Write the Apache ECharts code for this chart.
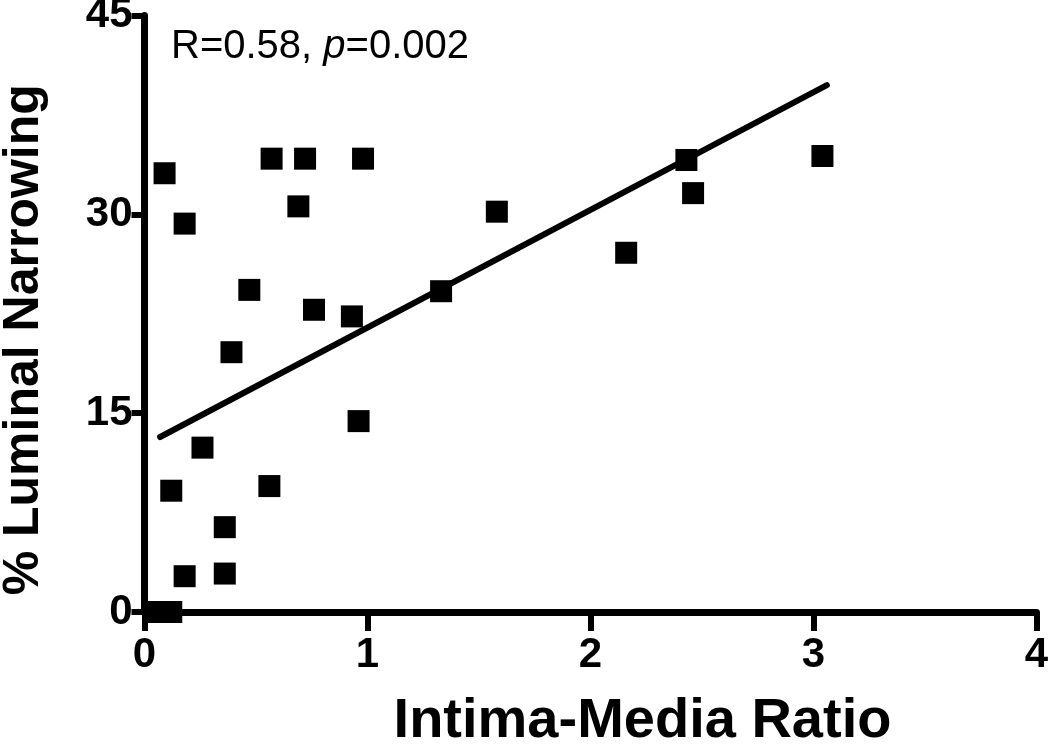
<!DOCTYPE html>
<html>
<head>
<meta charset="utf-8">
<script src="https://cdn.jsdelivr.net/npm/echarts@6/dist/echarts.min.js"></script>
<style>
html,body{margin:0;padding:0;background:#fff;}
#chart{width:1050px;height:746px;}
</style>
</head>
<body>
<div id="chart"></div>
<script>
// intima-media ratio (x) vs % luminal narrowing (y)
var imRatio = [0.09, 0.18, 0.57, 0.72, 0.69, 0.98, 0.47, 0.39, 0.76, 0.93, 0.96, 0.26, 0.12,
               0.56, 0.36, 0.18, 0.36, 0.06, 0.12, 1.33, 1.58, 2.16, 2.43, 2.46, 3.04];
var narrowing = [33.1, 29.3, 34.2, 34.2, 30.6, 34.2, 24.3, 19.6, 22.8, 22.3, 14.4, 12.4, 9.15,
                 9.5, 6.4, 2.7, 2.9, 0, 0, 24.2, 30.2, 27.1, 34.1, 31.6, 34.4];
// regression line end points
var fitX = [0.07, 3.06];
var fitY = [13.2, 39.75];

var points = imRatio.map(function (x, i) { return [x, narrowing[i]]; });
var fitLine = fitX.map(function (x, i) { return [x, fitY[i]]; });

var chart = echarts.init(document.getElementById('chart'));
var axisFont = 'Liberation Sans, Arial, sans-serif';
chart.setOption({
    backgroundColor: '#fff',
    animation: false,
    title: {
        text: '{n|R=0.58, }{i|p}{n|=0.002}',
        left: 166,
        top: 22,
        textStyle: {
            fontWeight: 'normal',
            rich: {
                n: {fontFamily: axisFont, fontSize: 40, fontWeight: 'normal', color: '#000'},
                i: {fontFamily: axisFont, fontSize: 40, fontWeight: 'normal', fontStyle: 'italic', color: '#000'}
            }
        }
    },
    grid: {left: 144.5, right: 13.5, top: 15.5, bottom: 134, containLabel: false, outerBoundsMode: 'none'},
    xAxis: {
        type: 'value',
        min: 0, max: 4, interval: 1,
        name: 'Intima-Media Ratio',
        nameLocation: 'middle',
        nameGap: 82,
        nameTextStyle: {fontFamily: axisFont, fontWeight: 'bold', fontSize: 56, color: '#000', padding: [0, 0, 0, 104]},
        axisLine: {lineStyle: {color: '#000', width: 7}},
        axisTick: {show: true, length: 19, lineStyle: {color: '#000', width: 6}},
        axisLabel: {fontFamily: axisFont, fontWeight: 'bold', fontSize: 42, color: '#000', margin: 22},
        splitLine: {show: false}
    },
    yAxis: {
        type: 'value',
        min: 0, max: 45, interval: 15,
        name: '% Luminal Narrowing',
        nameLocation: 'middle',
        nameGap: 95,
        nameTextStyle: {fontFamily: axisFont, fontWeight: 'bold', fontSize: 50, color: '#000', padding: [0, 52, 0, 0]},
        axisLine: {lineStyle: {color: '#000', width: 7}},
        axisTick: {show: true, length: 13, lineStyle: {color: '#000', width: 6}},
        axisLabel: {fontFamily: axisFont, fontWeight: 'bold', fontSize: 42, color: '#000', margin: 12},
        splitLine: {show: false}
    },
    series: [{
        type: 'scatter',
        data: points,
        symbol: 'rect',
        symbolSize: 22,
        itemStyle: {color: '#000', opacity: 1}
    }, {
        type: 'line',
        data: fitLine,
        showSymbol: false,
        symbol: 'none',
        lineStyle: {color: '#000', width: 6, cap: 'round'},
        z: 3
    }]
});
</script>
</body>
</html>
